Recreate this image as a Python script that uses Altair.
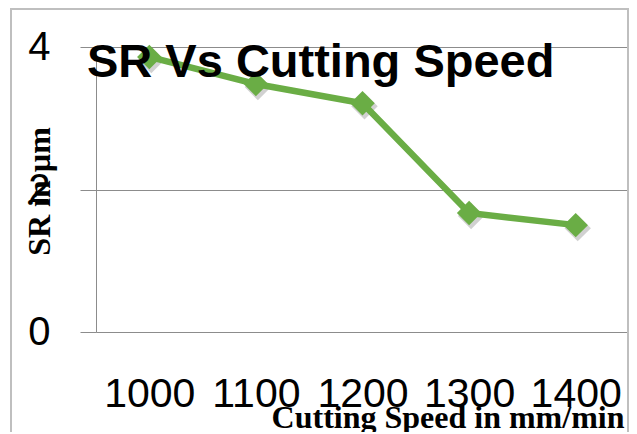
import altair as alt
import pandas as pd

speeds = ["1000", "1100", "1200", "1300", "1400"]
sr_values = [3.86, 3.48, 3.21, 1.67, 1.50]
y_ticks = [0, 2, 4]

df = pd.DataFrame({"speed": speeds, "sr": sr_values})

GREEN = "#6aad45"
GRID = "#8c8c8c"

x_enc = alt.X(
    "speed:N",
    sort=speeds,
    scale=alt.Scale(type="point", padding=0.5),
    axis=alt.Axis(
        title="Cutting Speed in mm/min",
        labelAngle=0,
        labelFont="Liberation Sans",
        labelFontSize=41,
        labelColor="#000000",
        labelPadding=42,
        ticks=False,
        tickSize=0,
        domain=False,
        grid=False,
        titleFont="Liberation Serif",
        titleFontWeight="bold",
        titleFontSize=32,
        titleColor="#000000",
        titleX=528,
        titleY=95,
        titleAlign="right",
        titleBaseline="alphabetic",
    ),
)
y_enc = alt.Y(
    "sr:Q",
    scale=alt.Scale(domain=[0, 4], nice=False, zero=True),
    axis=alt.Axis(
        title="SR in µm",
        values=y_ticks,
        labelFont="Liberation Sans",
        labelFontSize=40,
        labelColor="#000000",
        labelPadding=30,
        tickSize=16,
        tickColor=GRID,
        domainColor=GRID,
        gridColor=GRID,
        grid=True,
        titleFont="Liberation Serif",
        titleFontWeight="bold",
        titleFontSize=32,
        titleColor="#000000",
        titleAngle=270,
        titleX=-57,
        titleY=144,
        titleAlign="center",
        titleBaseline="middle",
    ),
)

base = alt.Chart(df).encode(x=x_enc, y=y_enc)

shadow_pts = base.mark_point(
    shape="diamond", filled=True, color="#000000", opacity=0.18, size=700,
    xOffset=2, yOffset=3,
)
line = base.mark_line(color=GREEN, strokeWidth=6.5)
pts = base.mark_point(shape="diamond", filled=True, color=GREEN, opacity=1, size=600)

frame = alt.Chart(alt.Data(values=[{"a": 1}])).mark_rect(
    fill="transparent", stroke="#bfbfbf", strokeWidth=2
).encode(
    x=alt.value(-85), x2=alt.value(532), y=alt.value(-38), y2=alt.value(440)
)

chart = alt.layer(frame, shadow_pts, line, pts).properties(
    width=533,
    height=285,
    autosize=alt.AutoSizeParams(type="none"),
    padding={"left": 88, "top": 39, "right": 0, "bottom": 100},
    title=alt.TitleParams(
        text="SR Vs Cutting Speed",
        font="Liberation Sans",
        fontSize=47,
        fontWeight="bold",
        color="#000000",
        anchor="start",
        frame="group",
        baseline="alphabetic",
        offset=0,
        dx=-9,
        dy=116,
    ),
).configure_view(stroke="transparent").configure(background="#ffffff")

chart.save("out.html", embed_options={"renderer": "svg", "actions": False})
